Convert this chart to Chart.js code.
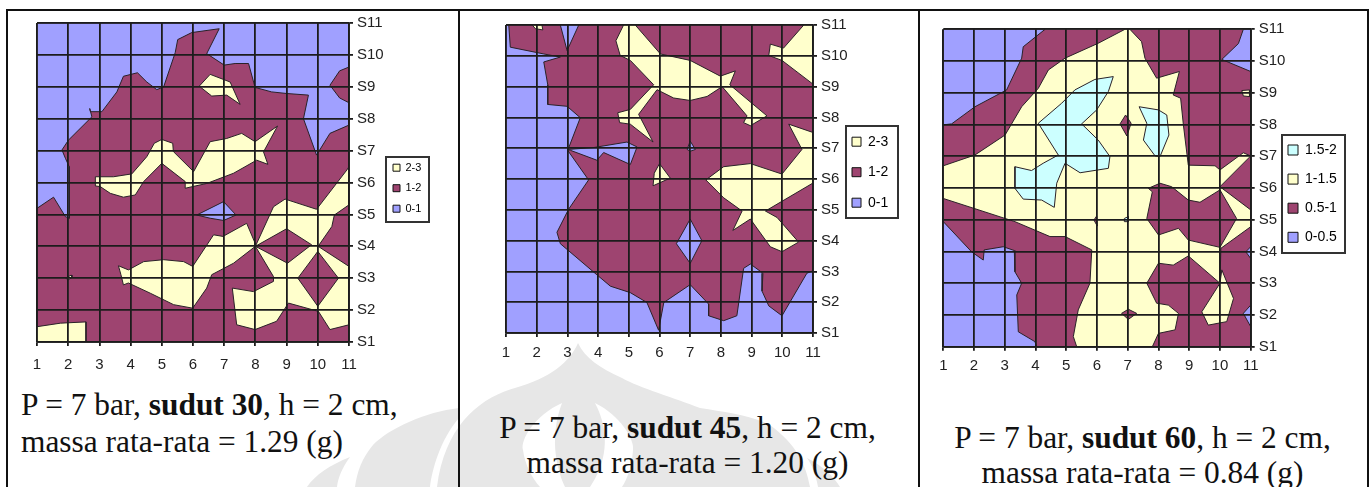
<!DOCTYPE html>
<html><head><meta charset="utf-8">
<script src="https://cdn.jsdelivr.net/npm/chart.js@4"></script>
<style>
html,body{margin:0;padding:0;background:#fff;width:1371px;height:487px;overflow:hidden}
#wm{position:absolute;left:0;top:0}
canvas{position:absolute;filter:blur(.35px)}
.rule{position:absolute;background:#111}
.cap{position:absolute;font-family:"Liberation Serif",serif;font-size:31.4px;color:#111;white-space:nowrap}
</style></head><body>
<svg id="wm" width="1371" height="487" viewBox="0 0 1371 487">
<path fill="#e7e7e7" d="M578,343C570,362 550,378 515,388C480,398 445,425 437,487L810,487C806,465 797,445 770,425C750,415 725,412 700,408C675,398 640,388 622,378C600,368 585,358 578,343Z"/>
<path fill="#fff" d="M562,403C535,415 520,440 523,450C525,465 532,478 540,487L565,487C555,465 550,435 562,403Z"/>
<path fill="#fff" d="M595,403C620,415 635,440 633,450C632,465 628,478 622,487L590,487C605,465 612,435 595,403Z"/>
<path fill="#e7e7e7" d="M459,408C425,412 390,428 373,445C362,458 357,472 355,487L430,487C432,470 440,440 459,418Z"/>
<path fill="#e7e7e7" d="M350,457C330,465 315,475 307,487L337,487C338,478 342,468 350,457Z"/>
<path fill="#e7e7e7" d="M807,458C822,465 835,478 840,487L818,487C816,475 812,465 807,458Z"/>
</svg>
<div class="rule" style="left:7px;top:9px;width:1362px;height:2px"></div>
<div class="rule" style="left:6px;top:9px;width:2px;height:478px"></div>
<div class="rule" style="left:458px;top:9px;width:2px;height:478px"></div>
<div class="rule" style="left:918px;top:9px;width:2px;height:478px"></div>
<div class="rule" style="left:1367px;top:9px;width:2px;height:478px"></div>
<div class="cap" style="left:21px;top:386px;line-height:37px">P = 7 bar, <b>sudut 30</b>, h = 2 cm,<br>massa rata-rata = 1.29 (g)</div>
<div class="cap" style="left:460px;width:455px;top:410px;line-height:35px;text-align:center">P = 7 bar, <b>sudut 45</b>, h = 2 cm,<br>massa rata-rata = 1.20 (g)</div>
<div class="cap" style="left:920px;width:445px;top:420px;line-height:35px;text-align:center">P = 7 bar, <b>sudut 60</b>, h = 2 cm,<br>massa rata-rata = 0.84 (g)</div>
<canvas id="c1"></canvas><canvas id="c2"></canvas><canvas id="c3"></canvas>
<script>
const xTicks=[1,2,3,4,5,6,7,8,9,10,11];
const yTicks=["S1","S2","S3","S4","S5","S6","S7","S8","S9","S10","S11"];
const fullField=[[1,1],[11,1],[11,11],[1,11]];

// sudut 30
const labels30=["2-3","1-2","0-1"];
const s30BlueMain=[[1,11],[11,11],[11,7.8],[10.39,7.54],[9.96,6.86],[9.54,8],[9.7,8.74],[9,8.79],[8.52,8.84],[7.99,8.98],[7.78,9.73],[7.35,9.73],[7,9.68],[6.44,10.04],[6.84,10.82],[5.96,10.7],[5.51,10.48],[5.43,10.07],[5.06,9],[4.84,8.91],[4.52,9.15],[4.22,9.44],[3.77,9.33],[3.56,8.84],[3.08,8.22],[2.71,8.22],[2.69,8.32],[2.76,8.06],[2.01,7.33],[1.8,7.02],[1.91,6.76],[2.03,6.5],[2.03,5.5],[2.05,4.88],[1.91,4.93],[1.53,5.54],[1,5.19]];
const s30BlueHole=[[6.12,4.98],[6.98,5.4],[7.38,4.98],[6.98,4.81],[6.55,4.88]];
const s30MidLobe=[[11,9.62],[10.7,9.5],[10.39,9.05],[10.7,8.65],[11,8.5]];
const s30YellowCorner=[[1,1],[1,1.48],[1.75,1.59],[2.57,1.63],[2.57,1]];
const s30YellowWorm=[[2.87,6.18],[3.45,6.18],[4.04,6.27],[4.52,6.81],[4.76,7.23],[5,7.35],[5.35,7.23],[5.37,6.97],[6.02,6.34],[6.55,7.28],[7.08,7.38],[7.56,7.54],[7.99,7.28],[8.71,7.77],[8.26,6.96],[8.4,6.57],[8.04,6.7],[7.3,6.29],[6.44,5.97],[5.75,5.82],[5.75,6.03],[5,6.6],[4.42,6.03],[4.15,5.61],[3.77,5.54],[3.35,5.66],[3.03,5.87],[2.89,5.89]];
const s30YellowTop=[[6.2,9.02],[6.55,9.39],[7.19,9.15],[7.51,8.45],[7.08,8.74],[6.6,8.71]];
const s30YellowBand=[[3.61,3.39],[3.93,3.26],[4.42,3.52],[5.06,3.58],[5.7,3.52],[5.99,3.37],[6.66,4.36],[6.96,4.31],[7.72,4.72],[7.99,4.1],[8,4],[7.3,3.47],[6.6,3.11],[6.44,2.69],[5.99,2.06],[5.38,2.17],[4.63,2.53],[3.93,2.85],[3.77,2.79],[3.69,3.11]];
const s30YellowLattice=[[8,4],[8.58,5.24],[8.95,5.48],[9.96,5.16],[10.93,6.39],[11,6.5],[11,5.3],[10.53,4.98],[10.45,4.62],[10.01,4],[11,3.37],[11,1.54],[10.39,1.39],[10.02,1.96],[9.06,2.22],[8.68,1.65],[7.99,1.39],[7.4,1.54],[7.26,2.69],[7.94,2.58],[8.58,2.9],[8.58,3.05]];
const s30YellowDot=[[1.92,3],[2.1,3.1],[2.12,3.02],[2,2.95]];
const s30MidDiamondA=[[8,4],[9,4.55],[9.8,4.05],[9.03,3.47]];
const s30MidDiamondB=[[10,3.84],[10.66,3],[10,2.12],[9.36,3]];

// sudut 45
const labels45=["2-3","1-2","0-1"];
const s45BlueMain=[[1,11],[1.09,11],[1.14,10.28],[2.23,10.06],[2.77,9.96],[2.23,9.8],[2.36,9.06],[2.36,8.42],[2.99,8.36],[3.42,7.99],[3.01,6.93],[3.69,5.97],[3.04,5.02],[2.66,4.27],[2.77,3.9],[3.96,2.89],[4.4,2.52],[5.05,2.31],[5.59,1.99],[5.97,1.09],[6.14,1.99],[7,2.57],[7.6,1.94],[7.6,1.56],[8.09,1.4],[8.52,1.56],[8.74,3.1],[8.96,3.24],[9.37,2.94],[9.34,2.36],[9.56,1.88],[9.99,1.56],[10.8,2.94],[11,3.02],[11,1],[1,1]];
const s45BlueNotch=[[2.77,11],[3.37,11],[2.99,10.17]];
const s45BlueArm=[[3.01,6.96],[3.85,7.02],[4.94,7.2],[5.27,7.04],[5.05,6.47],[4.18,6.86],[3.96,6.61],[3.1,6.93]];
const s45BlueDot=[[6.9,6.96],[7,7.23],[7.17,6.96],[7,6.9]];
const s45BlueDiamond=[[7,4.7],[7.38,4],[7,3.26],[6.55,3.9]];
const s45YellowTiny=[[1.85,11],[2.17,11],[2.2,10.84],[1.96,10.88]];
const s45YellowBird=[[4.83,11],[5.21,11],[6.03,10.06],[7,9.85],[7.98,9.34],[8.47,9.51],[8.29,9.06],[9.5,8.05],[8.96,7.73],[8.74,7.83],[8.85,8.05],[8.04,9],[7.55,8.68],[7,8.55],[6.46,8.63],[5.92,8.9],[5.32,8.1],[5.79,7.2],[5.05,7.78],[4.7,7.83],[4.64,8.15],[5.05,8.26],[5.81,9.06],[5.05,9.85],[4.72,10.01],[4.58,10.49]];
const s45YellowCorner=[[10.7,11],[11,11],[11,9.08],[9.99,9.85],[9.56,10.01],[9.61,10.38],[10.04,10.25]];
const s45YellowSpot=[[6,6.5],[6.35,6.03],[5.79,5.78],[5.83,6.19]];
const s45YellowBig=[[10.21,7.78],[11,7.51],[11,5.87],[9.45,4.96],[9.83,4.75],[10.53,3.95],[9.99,3.64],[9.61,3.8],[8.96,4.7],[8.39,4.33],[8.69,4.96],[8.09,5.39],[7.51,5.97],[8.09,6.4],[8.96,6.5],[9.99,6.16],[10.64,6.96]];

// sudut 60
const labels60=["1.5-2","1-1.5","0.5-1","0-0.5"];
const s60BlueTopLeft=[[1,11],[4.31,11],[3.6,10.45],[3.55,10.09],[3.06,9.09],[2.03,8.56],[1.27,8.02],[1,7.99]];
const s60BlueTopRight=[[10.76,11],[11,11],[11,9.67],[10.06,10.05],[10.6,10.55]];
const s60BlueBottomLeft=[[1,4.94],[1.92,3.99],[2.3,3.73],[2.33,4.05],[2.95,4.15],[3.31,4.03],[3.33,3.36],[3.55,3],[3.39,2.63],[3.44,1.47],[3.98,1.16],[4.04,1],[1,1]];
const s60BlueEdgeA=[[11,4.15],[10.84,3.99],[11,3.78]];
const s60BlueEdgeB=[[11,2.31],[10.76,2.05],[11,1.63]];
const s60YellowMain=[[6.91,11],[7.07,11],[7.45,10.61],[7.56,10.09],[7.94,9.46],[8.68,9.67],[8.48,8.93],[8.72,8.83],[8.81,7.99],[8.97,6.72],[9.84,6.7],[10,6.57],[10.76,7.11],[11,7.01],[10,6.04],[11,5.31],[11,4.78],[10.03,4.1],[10,3],[8.97,3.86],[8.48,3.57],[8,3.63],[7.62,3],[7.94,2.37],[8.32,2.31],[8.65,2.05],[8.54,1.53],[8,1.42],[7.8,1],[5.34,1],[5.23,1.32],[5.39,2.16],[5.77,3],[5.83,4.05],[4.96,4.47],[4.47,4.47],[3.33,4.94],[1,5.67],[1,6.7],[2.03,7.04],[3.01,7.67],[3.55,8.56],[4.09,9.14],[4.42,9.72],[4.96,10.09],[6.04,10.56]];
const s60YellowLower=[[10.06,3.42],[10.44,2.52],[10.22,1.79],[9.62,1.68],[9.41,2.1],[10,3]];
const s60YellowEdge=[[10.71,9.07],[10.96,9.09],[10.96,8.88],[10.76,8.9]];
const s60MidCenter=[[7.67,5.99],[8.05,6.15],[8.43,6.04],[8.97,5.62],[9.35,5.55],[10,5.94],[10.54,5.04],[10,4.13],[8.97,4.36],[8.65,4.73],[8,4.52],[7.62,5.04],[7.8,5.88]];
const s60MidSpotA=[[6.75,8.02],[6.93,8.3],[7.11,8.04],[6.97,7.64]];
const s60MidSpotB=[[6.8,2.05],[7.02,2.18],[7.29,2.05],[7.02,1.86]];
const s60MidSpotC=[[5.9,4.99],[5.99,5.12],[6.01,4.8]];
const s60CyanLarge=[[6.53,9.51],[5.93,9.42],[5.28,9.09],[4.85,8.67],[4.09,8.04],[4.74,7.04],[4.25,6.78],[3.87,6.55],[3.33,6.67],[3.33,5.99],[3.6,5.65],[4.2,5.62],[4.61,5.39],[4.69,6.15],[4.96,6.78],[5.45,6.48],[6.37,6.62],[6.42,6.99],[6.04,7.51],[5.5,8.02],[5.99,8.46],[6.37,9.04]];
const s60CyanSmall=[[7.37,8.56],[8,8.46],[8.27,8.3],[8.34,7.67],[8.05,6.99],[7.89,7.01],[7.51,7.51],[7.62,8.04]];
const s60CyanTiny=[[6.89,5.04],[7.02,5.1],[7.02,4.94],[6.91,4.94]];

const BLUE="#a0a0ff",MID="#9e4470",YEL="#ffffcc",CYAN="#ccffff";
const panels=[
 {id:"c1",left:10,top:0,width:448,height:380,plot:{l:37,r:349,t:23,b:342},xGap:10,
  legend:{labels:labels30,colors:[YEL,MID,BLUE],frame:[386,157,43,65],x:393,y:167.7,gap:20.5,size:11,box:7},
  layers:[[fullField,MID],[s30BlueMain,BLUE],[s30BlueHole,BLUE],[s30MidLobe,MID],[s30YellowCorner,YEL],[s30YellowWorm,YEL],[s30YellowTop,YEL],[s30YellowBand,YEL],[s30YellowLattice,YEL],[s30YellowDot,YEL],[s30MidDiamondA,MID],[s30MidDiamondB,MID]]},
 {id:"c2",left:460,top:12,width:456,height:368,plot:{l:506,r:813,t:19,b:333},xGap:7,
  legend:{labels:labels45,colors:[YEL,MID,BLUE],frame:[846,126,52,92],x:852,y:141.7,gap:30.5,size:14,box:9},
  layers:[[fullField,MID],[s45BlueMain,BLUE],[s45BlueNotch,BLUE],[s45BlueArm,BLUE],[s45BlueDot,BLUE],[s45BlueDiamond,BLUE],[s45YellowTiny,YEL],[s45YellowBird,YEL],[s45YellowCorner,YEL],[s45YellowSpot,YEL],[s45YellowBig,YEL]]},
 {id:"c3",left:920,top:0,width:447,height:380,plot:{l:943.3,r:1250.7,t:29.3,b:346.7},xGap:6,
  legend:{labels:labels60,colors:[CYAN,YEL,MID,BLUE],frame:[1282,135,63,118],x:1288,y:150,gap:29.1,size:14,box:10},
  layers:[[fullField,MID],[s60BlueTopLeft,BLUE],[s60BlueTopRight,BLUE],[s60BlueBottomLeft,BLUE],[s60BlueEdgeA,BLUE],[s60BlueEdgeB,BLUE],[s60YellowMain,YEL],[s60YellowLower,YEL],[s60YellowEdge,YEL],[s60MidCenter,MID],[s60MidSpotA,MID],[s60MidSpotB,MID],[s60MidSpotC,MID],[s60CyanLarge,CYAN],[s60CyanSmall,CYAN],[s60CyanTiny,CYAN]]}
];
const FONT='"Liberation Sans",Arial,sans-serif',LINE="#1c1c1c",INK="#222";
Chart.defaults.font.family=FONT;

panels.forEach(p=>{
 const cv=document.getElementById(p.id);
 cv.style.left=p.left+"px";cv.style.top=p.top+"px";cv.width=p.width;cv.height=p.height;
 const yW=40,xH=30;
 const pad={left:p.plot.l-p.left,top:p.plot.t-p.top,right:p.width-(p.plot.r-p.left)-yW,bottom:p.height-(p.plot.b-p.top)-xH};
 const n=p.layers.length;
 const L=p.legend;
 const lp=L.gap-L.size;
 const legendFix={id:"legendFix",
  beforeDraw(ch){const g=ch.legend;
   g.left=L.x-p.left-lp;g.right=p.width;g.top=L.y-p.top-lp-L.size/2;g.bottom=p.height;},
  afterDraw(ch){const c=ch.ctx;c.save();c.strokeStyle="#333";c.lineWidth=2;
   c.strokeRect(L.frame[0]-p.left,L.frame[1]-p.top,L.frame[2],L.frame[3]);c.restore();}};
 new Chart(cv,{type:"line",
  data:{datasets:p.layers.map(([pts,col],i)=>({
    data:pts.concat([pts[0]]).map(([x,y])=>({x,y})),
    backgroundColor:col,borderColor:"#2a2228",borderWidth:1,fill:"shape",tension:0,pointRadius:0,order:n-i}))},
  options:{responsive:false,animation:false,events:[],
   layout:{padding:pad,autoPadding:false},
   plugins:{tooltip:{enabled:false},
    legend:{position:"chartArea",align:"start",
     labels:{padding:lp,boxWidth:L.box,boxHeight:L.box,color:INK,font:{size:L.size,lineHeight:1,family:FONT},
      generateLabels:()=>L.labels.map((t,i)=>({text:t,fillStyle:L.colors[i],strokeStyle:"#111",lineWidth:1,hidden:false,datasetIndex:0}))}}},
   scales:{
    x:{type:"linear",min:1,max:11,afterFit:s=>{s.height=xH},
     afterBuildTicks:s=>{s.ticks=xTicks.map(v=>({value:v}))},
     grid:{color:LINE,lineWidth:1.8,z:1,tickLength:4,tickColor:LINE},border:{color:LINE,width:1.8,z:1},
     ticks:{color:INK,font:{size:15},padding:p.xGap,maxRotation:0,autoSkip:false}},
    y:{type:"linear",position:"right",min:1,max:11,afterFit:s=>{s.width=yW},
     afterBuildTicks:s=>{s.ticks=yTicks.map((_,i)=>({value:i+1}))},
     grid:{color:LINE,lineWidth:1.8,z:1,tickLength:4,tickColor:LINE},border:{color:LINE,width:1.8,z:1},
     ticks:{color:INK,font:{size:15},padding:4,autoSkip:false,callback:v=>yTicks[v-1]}}
   }},
  plugins:[legendFix]});
});
</script></body></html>
